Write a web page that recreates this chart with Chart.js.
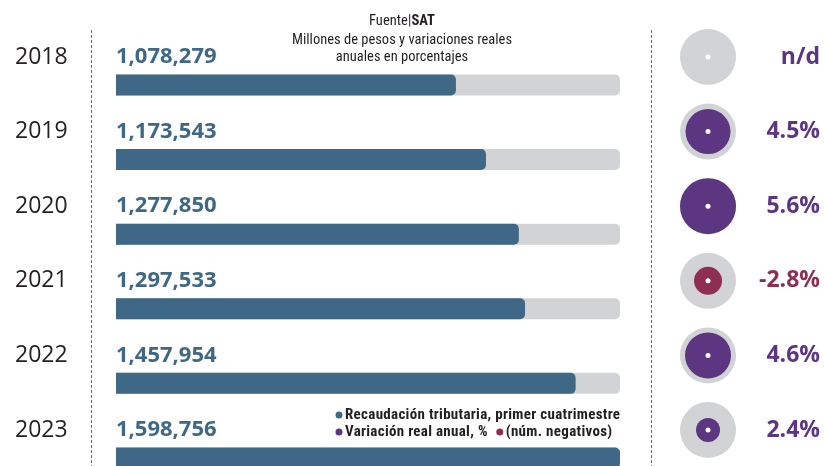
<!DOCTYPE html>
<html lang="es">
<head>
<meta charset="utf-8">
<title>Recaudación tributaria</title>
<script src="https://cdn.jsdelivr.net/npm/chart.js@4.4.1/dist/chart.umd.min.js"></script>
<style>
  html, body { margin: 0; padding: 0; background: #fff; }
  #wrap { width: 825px; height: 466px; position: relative; }
</style>
</head>
<body>
<div id="wrap"><canvas id="chartRecaudacion"></canvas></div>
<script>
const anios = [2018, 2019, 2020, 2021, 2022, 2023];
const recaudacion = [1078279, 1173543, 1277850, 1297533, 1457954, 1598756];
const variacion = [null, 4.5, 5.6, -2.8, 4.6, 2.4];

const azul = '#3e6886', gris = '#d1d3d4', morado = '#5c3681', guinda = '#8e2f51', texto = '#231f20';
const angosta = '"Roboto Condensed", "Open Sans", sans-serif';

const maxV = Math.max(...recaudacion);
const k = maxV / 504;          // la barra completa mide 504 px
const posBarra = 0.375;        // la barra va debajo del numero
const colCirculo = 0.8464;     // columna de circulos (escala xc)
const colDivisor = 0.7682;     // linea punteada derecha
const rCirculo = 28, rPorPunto = 5;

// los circulos se dibujan como burbujas
const circulos = anios.map(a => ({x: colCirculo, y: a, r: rCirculo}));
const puntos = anios.map(a => ({x: colCirculo, y: a, r: 2.5}));
const internos = variacion
  .map((v, i) => v === null ? null : {x: colCirculo, y: anios[i], r: Math.abs(v) * rPorPunto, v: v})
  .filter(Boolean);

const fmtPct = v => v === null ? 'n/d' : v.toFixed(1) + '%';

const textos = {
  id: 'textos',
  afterDatasetsDraw(chart) {
    const {ctx} = chart;
    const y = chart.scales.y;
    ctx.save();
    ctx.textBaseline = 'middle';

    // montos
    ctx.fillStyle = azul;
    ctx.font = 'bold 22px "Open Sans"';
    ctx.textAlign = 'left';
    chart.getDatasetMeta(0).data.forEach((bar, i) => {
      ctx.fillText(recaudacion[i].toLocaleString('en-US'), bar.base, y.getPixelForValue(anios[i]));
    });

    // encabezado
    const cx = 402;
    ctx.font = '14.5px ' + angosta;
    const w1 = ctx.measureText('Fuente').width;
    ctx.font = 'bold 14.5px ' + angosta;
    const w2 = ctx.measureText('|').width, w3 = ctx.measureText('SAT').width;
    let x = cx - (w1 + w2 + w3) / 2;
    ctx.fillStyle = texto;
    ctx.font = '14.5px ' + angosta;
    ctx.fillText('Fuente', x, 21);
    ctx.font = 'bold 14.5px ' + angosta;
    ctx.fillStyle = morado;
    ctx.fillText('|', x + w1, 21);
    ctx.fillStyle = texto;
    ctx.fillText('SAT', x + w1 + w2, 21);
    ctx.textAlign = 'center';
    ctx.font = '14.5px ' + angosta;
    ctx.fillText('Millones de pesos y variaciones reales', cx, 40);
    ctx.fillText('anuales en porcentajes', cx, 57);

    // leyenda
    ctx.textAlign = 'left';
    ctx.font = 'bold 15px ' + angosta;
    ctx.letterSpacing = '0.3px';
    const item = (color, label, lx, ly) => {
      ctx.fillStyle = color;
      ctx.beginPath();
      ctx.arc(lx, ly, 3.5, 0, Math.PI * 2);
      ctx.fill();
      ctx.fillStyle = texto;
      ctx.fillText(label, lx + 6, ly);
      return lx + 6 + ctx.measureText(label).width;
    };
    item(azul, 'Recaudación tributaria, primer cuatrimestre', 339, 415);
    const fin = item(morado, 'Variación real anual, %', 339, 432);
    item(guinda, '(núm. negativos)', fin + 12, 432);
    ctx.restore();
  }
};

const yMin = 2017.638, yMax = 2023.483;   // 74.6 px por año
const ticksAnios = s => { s.ticks = anios.map(a => ({value: a})); };
const sinRelleno = ancho => s => { s.width = ancho; s.paddingTop = 0; s.paddingBottom = 0; };

new Chart(document.getElementById('chartRecaudacion'), {
  type: 'bar',
  data: {
    datasets: [
      {
        label: 'Recaudación tributaria, primer cuatrimestre',
        data: recaudacion.map((v, i) => ({x: v, y: anios[i] + posBarra})),
        backgroundColor: azul,
        borderRadius: 5,
        grouped: false,
        maxBarThickness: 21,
        xAxisID: 'x', yAxisID: 'y'
      },
      {
        label: 'fondo',
        data: anios.map(a => ({x: maxV, y: a + posBarra})),
        backgroundColor: gris,
        borderRadius: 5,
        grouped: false,
        maxBarThickness: 21,
        xAxisID: 'x', yAxisID: 'y'
      },
      {
        type: 'bubble', label: 'centro', data: puntos,
        backgroundColor: '#ffffff', borderWidth: 0, clip: false,
        xAxisID: 'xc', yAxisID: 'y'
      },
      {
        type: 'bubble', label: 'Variación real anual, %', data: internos,
        backgroundColor: c => (c.raw && c.raw.v < 0) ? guinda : morado,
        borderWidth: 0, clip: false,
        xAxisID: 'xc', yAxisID: 'y'
      },
      {
        type: 'bubble', label: 'círculo', data: circulos,
        backgroundColor: gris, borderWidth: 0, clip: false,
        xAxisID: 'xc', yAxisID: 'y'
      }
    ]
  },
  options: {
    indexAxis: 'y',
    responsive: true,
    maintainAspectRatio: false,
    animation: false,
    layout: {padding: {top: 30, left: 15, right: 5, bottom: 0}, autoPadding: false},
    plugins: {legend: {display: false}, tooltip: {enabled: false}},
    scales: {
      x: {type: 'linear', display: false, min: -25 * k, max: 704 * k},
      xc: {
        type: 'linear', position: 'bottom', min: 0, max: 1,
        afterBuildTicks: s => { s.ticks = [{value: 0}, {value: colDivisor}]; },
        afterFit: s => { s.height = 0; },
        ticks: {display: false},
        grid: {drawTicks: false, color: '#6d6e71', lineWidth: 1},
        border: {display: false, dash: [3, 2]}
      },
      y: {
        type: 'linear', position: 'left', reverse: true, offset: false, min: yMin, max: yMax,
        afterBuildTicks: ticksAnios,
        afterFit: sinRelleno(76),
        grid: {display: false, drawTicks: false, offset: false},
        border: {display: false},
        ticks: {
          crossAlign: 'far', color: texto,
          font: {family: 'Open Sans', size: 23},
          callback: v => String(v)
        }
      },
      yr: {
        type: 'linear', position: 'right', reverse: true, offset: false, min: yMin, max: yMax,
        afterBuildTicks: ticksAnios,
        afterFit: sinRelleno(0),
        grid: {display: false, drawTicks: false},
        border: {display: false},
        ticks: {
          mirror: true, padding: 0,
          color: c => variacion[anios.indexOf(c.tick.value)] < 0 ? guinda : morado,
          font: {family: 'Open Sans', size: 23, weight: 'bold'},
          callback: v => fmtPct(variacion[anios.indexOf(v)])
        }
      }
    }
  },
  plugins: [textos]
});
</script>
</body>
</html>
